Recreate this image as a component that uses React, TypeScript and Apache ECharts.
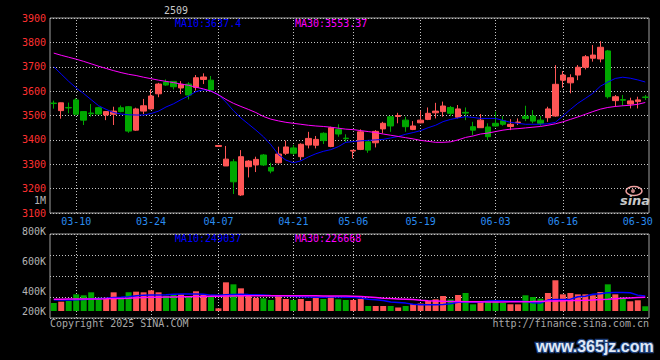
import React, { useEffect, useRef } from 'react';
import * as echarts from 'echarts';

const dates = [
  '03-05','03-06','03-07',
  '03-10','03-11','03-12','03-13','03-14',
  '03-17','03-18','03-19','03-20','03-21',
  '03-24','03-25','03-26','03-27','03-28',
  '03-31','04-01','04-02','04-03',
  '04-07','04-08','04-09','04-10','04-11',
  '04-14','04-15','04-16','04-17','04-18',
  '04-21','04-22','04-23','04-24','04-25',
  '04-28','04-29','04-30',
  '05-06','05-07','05-08','05-09',
  '05-12','05-13','05-14','05-15','05-16',
  '05-19','05-20','05-21','05-22','05-23',
  '05-26','05-27','05-28','05-29','05-30',
  '06-03','06-04','06-05','06-06',
  '06-09','06-10','06-11','06-12','06-13',
  '06-16','06-17','06-18','06-19','06-20',
  '06-23','06-24','06-25','06-26','06-27',
  '06-30','07-01',
];
const labeledDates = ['03-10','03-24','04-07','04-21','05-06','05-19','06-03','06-16','06-30'];
const gridLineDates = ['03-10','03-24','04-07','04-21','05-06','05-19','06-03','06-16'];

const openPrices = [
  3551,3520,3533,3564,3516,3510,3532,3502,3505,3532,
  3536,3440,3518,3527,3589,3637,3640,3613,3629,3615,
  3648,3645,3373,3293,3310,3174,3290,3297,3338,3287,
  3306,3345,3367,3331,3379,3378,3427,3373,3443,3407,
  3354,3361,3392,3388,3445,3495,3496,3481,3443,3470,
  3484,3511,3516,3533,3493,3513,3454,3450,3453,3468,
  3478,3455,3471,3497,3498,3481,3491,3498,3645,3634,
  3666,3698,3735,3732,3765,3561,3565,3547,3557,3576,
];
const closePrices = [
  3549,3552,3531,3505,3481,3507,3506,3516,3518,3516,
  3436,3527,3540,3580,3629,3625,3618,3628,3584,3655,
  3658,3605,3377,3321,3228,3331,3313,3320,3297,3272,
  3342,3371,3345,3382,3406,3402,3397,3450,3424,3405,
  3357,3433,3358,3435,3468,3457,3500,3454,3457,3481,
  3509,3518,3539,3509,3527,3510,3440,3481,3413,3457,
  3464,3464,3473,3488,3477,3468,3527,3628,3666,3655,
  3698,3741,3748,3780,3577,3577,3563,3560,3564,3574,
];
const lowPrices = [
  3528,3487,3509,3501,3461,3495,3504,3481,3461,3513,
  3429,3437,3506,3525,3575,3622,3607,3588,3566,3602,
  3629,3602,3373,3293,3178,3170,3246,3268,3293,3263,
  3303,3338,3338,3317,3365,3365,3383,3370,3413,3391,
  3324,3358,3347,3369,3427,3433,3468,3433,3440,3468,
  3481,3488,3495,3498,3488,3481,3420,3450,3400,3453,
  3458,3440,3461,3477,3468,3458,3474,3495,3614,3591,
  3645,3689,3721,3718,3570,3536,3540,3529,3529,3564,
];
const highPrices = [
  3561,3553,3553,3571,3517,3547,3536,3517,3536,3541,
  3539,3532,3568,3607,3634,3648,3641,3641,3637,3666,
  3673,3662,3377,3375,3321,3358,3317,3331,3342,3306,
  3372,3397,3379,3386,3433,3416,3431,3454,3464,3423,
  3358,3443,3393,3440,3474,3498,3511,3495,3477,3520,
  3533,3552,3557,3539,3543,3533,3474,3506,3468,3516,
  3498,3485,3488,3540,3522,3498,3536,3707,3682,3669,
  3707,3748,3789,3805,3769,3584,3584,3573,3577,3584,
];
const ma10Price = [
  3700,3670,3640,3613,3590,3565,3540,3525,3512,3506,
  3503,3502,3502,3508,3518,3535,3548,3565,3580,3598,
  3606,3600,3585,3555,3520,3490,3465,3440,3413,3380,
  3340,3317,3306,3314,3330,3343,3353,3360,3372,3390,
  3393,3396,3398,3400,3402,3408,3414,3423,3430,3438,
  3450,3460,3475,3484,3490,3495,3492,3488,3488,3488,
  3480,3472,3468,3464,3464,3464,3466,3472,3498,3525,
  3550,3570,3591,3620,3637,3652,3657,3653,3646,3637.4,
];
const ma30Price = [
  3756,3747,3739,3731,3722,3712,3702,3693,3684,3676,
  3669,3664,3657,3651,3645,3640,3635,3629,3624,3616,
  3609,3600,3585,3566,3550,3537,3525,3512,3496,3485,
  3478,3472,3468,3464,3460,3457,3455,3452,3448,3444,
  3442,3438,3434,3430,3424,3419,3414,3409,3404,3398,
  3394,3390,3390,3392,3400,3410,3416,3424,3428,3434,
  3440,3444,3446,3449,3452,3455,3460,3466,3474,3484,
  3494,3505,3516,3526,3533,3537,3540,3542,3546,3553.37,
];
const volumes = [
  132000,154000,165000,275000,259000,308000,220000,220000,308000,220000,
  308000,319000,308000,341000,308000,253000,275000,275000,231000,325000,
  264000,242000,44000,473000,440000,374000,275000,220000,209000,182000,
  253000,198000,182000,198000,165000,220000,198000,248000,193000,182000,
  182000,198000,83000,83000,83000,83000,58000,83000,116000,124000,
  165000,193000,248000,190000,264000,297000,110000,157000,160000,160000,
  132000,110000,110000,259000,231000,203000,297000,507000,275000,297000,
  275000,275000,259000,314000,440000,275000,220000,160000,177000,78000,
];
const ma10Volume = [
  185000,183000,182000,185000,190000,200000,205000,210000,222000,228000,
  235000,250000,258000,262000,265000,268000,275000,280000,282000,282000,
  278000,262000,258000,268000,272000,275000,272000,270000,265000,255000,
  252000,250000,245000,235000,230000,228000,228000,230000,230000,228000,
  225000,215000,195000,185000,175000,150000,140000,130000,110000,105000,
  105000,105000,108000,120000,145000,150000,150000,150000,165000,170000,
  170000,162000,160000,158000,135000,132000,180000,190000,190000,195000,
  235000,245000,275000,285000,300000,305000,305000,300000,262000,249037,
];
const ma30Volume = [
  195000,195000,196000,197000,198000,199000,200000,202000,205000,208000,
  212000,218000,222000,225000,228000,230000,232000,234000,236000,238000,
  240000,242000,244000,246000,248000,250000,250000,251000,252000,252000,
  252000,252000,251000,250000,250000,250000,249000,248000,248000,246000,
  244000,240000,232000,222000,212000,205000,200000,195000,188000,178000,
  170000,165000,160000,157000,155000,153000,152000,151000,150000,150000,
  150000,151000,152000,153000,155000,158000,163000,167000,170000,172000,
  175000,178000,182000,188000,195000,203000,210000,216000,222000,226668,
];

const priceMin = 3100;
const priceMax = 3900;
const priceStep = 100;
const volumeAxisMin = -115500;
const volumeAxisMax = 1270500;
const volumeTickLabels = ['200K', '', '400K', '', '', '600K', '', '', '800K'];
const volumeGridSlots = [0, 1, 2, 3, 4];

const contractCode = '2509';
const priceMaLabels = ['MA10:3637.4', 'MA30:3553.37'];
const volumeMaLabels = ['MA10:249037', 'MA30:226668'];
const sideUnitLabel = '1M';
const copyrightText = 'Copyright 2025 SINA.COM';
const urlText = 'http://finance.sina.com.cn';
const watermarkText = 'www.365jz.com';

const UP = '#ff5555';
const DOWN = '#00a800';
const MA10C = '#0000ff';
const MA30C = '#ff00ff';
const GRIDC = '#c4c4c4';
const MONO = '"DejaVu Sans Mono", "Liberation Mono", monospace';

const candleData = dates.map((_, i) => [openPrices[i], closePrices[i], lowPrices[i], highPrices[i]]);
const volumeData = volumes.map((v, i) => ({
  value: v,
  itemStyle: { color: closePrices[i] >= openPrices[i] ? UP : DOWN },
}));

const gridMarkLine = {
  silent: true,
  symbol: ['none', 'none'],
  label: { show: false },
  z: 1,
  lineStyle: { color: GRIDC, type: [1, 2], width: 1 },
  emphasis: { disabled: true },
  data: gridLineDates.map((d) => ({ xAxis: d })),
};

const monoText = (text: string, x: number, y: number, fill: string, align = 'left') => ({
  type: 'text',
  x,
  y,
  silent: true,
  style: {
    text,
    fill,
    font: `10px ${MONO}`,
    textAlign: align,
    textVerticalAlign: 'middle',
  },
});

const option: any = {
  animation: false,
  backgroundColor: '#000000',
  grid: [
    { left: 50, right: 11, top: 18, height: 195, show: true, borderColor: '#a0a0a0', borderWidth: 1 },
    { left: 50, right: 11, top: 234, height: 84, show: true, borderColor: '#a0a0a0', borderWidth: 1 },
    { left: 50, right: 11, top: 231, height: 80 },
  ],
  xAxis: [
    {
      type: 'category',
      gridIndex: 0,
      data: dates,
      boundaryGap: true,
      axisLine: { show: false },
      axisTick: { show: false },
      splitLine: { show: false },
      axisLabel: {
        interval: (_i: number, v: string) => labeledDates.includes(v),
        color: '#2a8cf0',
        fontFamily: MONO,
        fontSize: 10,
        margin: 3,
      },
    },
    {
      type: 'category',
      gridIndex: 1,
      data: dates,
      boundaryGap: true,
      axisLine: { show: false },
      axisTick: { show: false },
      splitLine: { show: false },
      axisLabel: { show: false },
    },
    { type: 'value', gridIndex: 2, show: false, min: 0, max: 1 },
  ],
  yAxis: [
    {
      type: 'value',
      gridIndex: 0,
      min: priceMin,
      max: priceMax,
      interval: priceStep,
      axisLine: { show: false },
      axisTick: { show: false },
      axisLabel: {
        color: '#ff3030',
        fontFamily: MONO,
        fontSize: 10,
        margin: 4,
        showMinLabel: true,
        showMaxLabel: true,
        formatter: (v: number) => String(v),
      },
      splitLine: { show: true, lineStyle: { color: GRIDC, type: [1, 2], width: 1 } },
    },
    {
      type: 'value',
      gridIndex: 1,
      min: volumeAxisMin,
      max: volumeAxisMax,
      axisLine: { show: false },
      axisTick: { show: false },
      axisLabel: { show: false },
      splitLine: { show: false },
    },
    {
      type: 'category',
      gridIndex: 1,
      data: volumeGridSlots,
      boundaryGap: false,
      axisLine: { show: false },
      axisTick: { show: false },
      axisLabel: { show: false },
      splitLine: { show: true, interval: 0, lineStyle: { color: GRIDC, type: [1, 2], width: 1 } },
    },
    {
      type: 'category',
      gridIndex: 2,
      data: volumeTickLabels,
      boundaryGap: false,
      axisLine: { show: false },
      axisTick: { show: false },
      splitLine: { show: false },
      axisLabel: { interval: 0, color: '#b4b4b4', fontFamily: MONO, fontSize: 10, margin: 4 },
    },
  ],
  series: [
    {
      type: 'candlestick',
      xAxisIndex: 0,
      yAxisIndex: 0,
      data: candleData,
      barWidth: 6,
      itemStyle: { color: UP, color0: DOWN, borderColor: UP, borderColor0: DOWN, borderWidth: 1 },
      markLine: gridMarkLine,
      z: 3,
    },
    {
      type: 'line',
      xAxisIndex: 0,
      yAxisIndex: 0,
      data: ma10Price,
      showSymbol: false,
      symbol: 'none',
      lineStyle: { color: MA10C, width: 1 },
      z: 4,
    },
    {
      type: 'line',
      xAxisIndex: 0,
      yAxisIndex: 0,
      data: ma30Price,
      showSymbol: false,
      symbol: 'none',
      lineStyle: { color: MA30C, width: 1 },
      z: 4,
    },
    {
      type: 'bar',
      xAxisIndex: 1,
      yAxisIndex: 1,
      data: volumeData,
      barWidth: 6,
      markLine: gridMarkLine,
      z: 3,
    },
    {
      type: 'line',
      xAxisIndex: 1,
      yAxisIndex: 1,
      data: ma10Volume,
      showSymbol: false,
      symbol: 'none',
      lineStyle: { color: MA10C, width: 1.5 },
      z: 4,
    },
    {
      type: 'line',
      xAxisIndex: 1,
      yAxisIndex: 1,
      data: ma30Volume,
      showSymbol: false,
      symbol: 'none',
      lineStyle: { color: MA30C, width: 1.5 },
      z: 4,
    },
  ],
  graphic: [
    monoText(contractCode, 176, 10, '#c8c8c8', 'center'),
    monoText(priceMaLabels[0], 175, 23, MA10C),
    monoText(priceMaLabels[1], 295, 23, MA30C),
    monoText(volumeMaLabels[0], 175, 238, MA10C),
    monoText(volumeMaLabels[1], 295, 238, MA30C),
    monoText(sideUnitLabel, 46, 200, '#b4b4b4', 'right'),
    monoText(copyrightText, 50, 323, '#a8a8a8'),
    monoText(urlText, 649, 323, '#a8a8a8', 'right'),
    {
      type: 'ellipse',
      silent: true,
      shape: { cx: 634, cy: 191, rx: 8, ry: 4.5 },
      style: { fill: 'none', stroke: '#f0a0a0', lineWidth: 1.5 },
    },
    {
      type: 'circle',
      silent: true,
      shape: { cx: 633, cy: 191, r: 2 },
      style: { fill: '#c08080' },
    },
    {
      type: 'text',
      x: 635,
      y: 200,
      silent: true,
      style: {
        text: 'sina',
        fill: '#c8c8c8',
        font: 'italic bold 13px "DejaVu Sans"',
        textAlign: 'center',
        textVerticalAlign: 'middle',
      },
    },
    {
      type: 'text',
      x: 536,
      y: 346,
      silent: true,
      style: {
        text: watermarkText,
        fill: '#dfe8f6',
        stroke: '#1f3f78',
        lineWidth: 2.5,
        font: 'bold 16px "Liberation Sans"',
        textAlign: 'left',
        textVerticalAlign: 'middle',
      },
    },
  ],
};

export default function App() {
  const ref = useRef<HTMLDivElement>(null);
  useEffect(() => {
    if (!ref.current) return;
    const chart = echarts.init(ref.current, null, { renderer: 'svg' });
    chart.setOption(option);
    return () => chart.dispose();
  }, []);
  return (
    <div
      ref={ref}
      style={{ position: 'fixed', left: 0, top: 0, width: 660, height: 360 }}
    />
  );
}
